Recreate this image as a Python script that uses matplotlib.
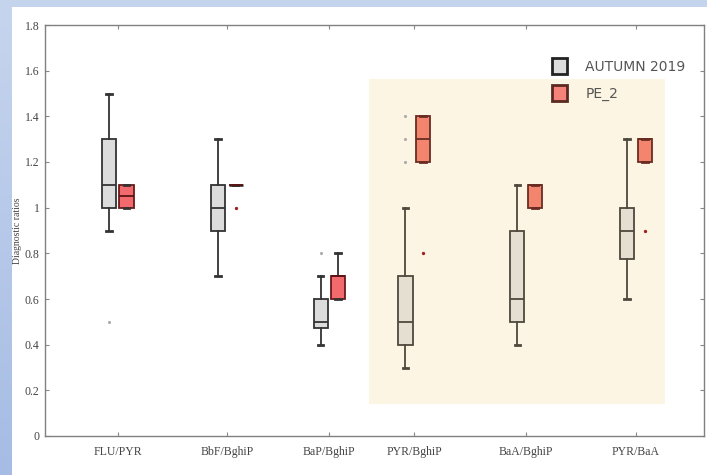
import numpy as np
import matplotlib
matplotlib.use("Agg")
import matplotlib.pyplot as plt
from matplotlib.patches import Patch, Rectangle

# ratio categories and where each group sits on the x axis
ratios = ["FLU/PYR", "BbF/BghiP", "BaP/BghiP", "PYR/BghiP", "BaA/BghiP", "PYR/BaA"]
group_pos = [0.662, 1.656, 2.589, 3.362, 4.381, 5.381]
highlighted = [False, False, False, True, True, True]

# AUTUMN 2019 box statistics
aut_whislo = [0.9, 0.7, 0.4, 0.3, 0.4, 0.6]
aut_q1 = [1.0, 0.9, 0.475, 0.4, 0.5, 0.775]
aut_med = [1.1, 1.0, 0.5, 0.5, 0.6, 0.9]
aut_q3 = [1.3, 1.1, 0.6, 0.7, 0.9, 1.0]
aut_whishi = [1.5, 1.3, 0.7, 1.0, 1.1, 1.3]
aut_fliers = [[0.5], [], [0.8], [1.2, 1.3, 1.4], [], []]

# PE_2 box statistics
pe_whislo = [1.0, 1.1, 0.6, 1.2, 1.0, 1.2]
pe_q1 = [1.0, 1.1, 0.6, 1.2, 1.0, 1.2]
pe_med = [1.05, 1.1, 0.7, 1.3, 1.1, 1.3]
pe_q3 = [1.1, 1.1, 0.7, 1.4, 1.1, 1.3]
pe_whishi = [1.1, 1.1, 0.8, 1.4, 1.1, 1.3]
pe_fliers = [[], [1.0], [], [0.8], [], [0.9]]

yticks = [0, 0.2, 0.4, 0.6, 0.8, 1.0, 1.2, 1.4, 1.6, 1.8]
ytick_labels = ["0", "0.2", "0.4", "0.6", "0.8", "1", "1.2", "1.4", "1.6", "1.8"]


def make_stats(lo, q1, med, q3, hi, fl):
    return [dict(whislo=a, q1=b, med=c, q3=d, whishi=e, fliers=f)
            for a, b, c, d, e, f in zip(lo, q1, med, q3, hi, fl)]


def restyle(parts, i, face, edge):
    parts["boxes"][i].set_facecolor(face)
    parts["boxes"][i].set_edgecolor(edge)
    parts["medians"][i].set_color(edge)
    for k in (2 * i, 2 * i + 1):
        parts["whiskers"][k].set_color(edge)
        parts["caps"][k].set_color(edge)


fig = plt.figure(figsize=(7.07, 4.75), dpi=100)
fig.patch.set_facecolor("white")

# blue frame around the slide
fig.patches.append(Rectangle((0, 1 - 7 / 475), 1, 7 / 475, transform=fig.transFigure,
                             facecolor="#c4d4ed", edgecolor="none", zorder=0))
side = fig.add_axes([0, 0, 12 / 707, 1 - 7 / 475])
grad = np.linspace(0, 1, 256).reshape(-1, 1)
side.imshow(grad, aspect="auto", cmap=matplotlib.colors.LinearSegmentedColormap.from_list(
    "side", ["#c6d5ee", "#a6bce4"]), origin="upper")
side.axis("off")

ax = fig.add_axes([45 / 707, 39 / 475, 659 / 707, 411 / 475])

# highlighted block behind the last three ratios
ax.add_patch(Rectangle((2.95, 0.14), 2.697, 1.424, facecolor="#fdf5e3",
                       edgecolor="none", zorder=0.5))

w = 0.128
off = 0.08
pos_a = [p - off for p in group_pos]
pos_p = [p + off for p in group_pos]

box_a = ax.bxp(make_stats(aut_whislo, aut_q1, aut_med, aut_q3, aut_whishi, aut_fliers),
               positions=pos_a, widths=w, patch_artist=True, manage_ticks=False,
               boxprops=dict(facecolor="#dcdcdc", edgecolor="#333333", linewidth=1.3),
               medianprops=dict(color="#333333", linewidth=1.3),
               whiskerprops=dict(color="#333333", linewidth=1.3),
               capprops=dict(color="#333333", linewidth=2.0),
               capwidths=0.05,
               flierprops=dict(marker="o", markersize=2.2, markerfacecolor="#aaaaaa",
                               markeredgecolor="none"))

box_p = ax.bxp(make_stats(pe_whislo, pe_q1, pe_med, pe_q3, pe_whishi, pe_fliers),
               positions=pos_p, widths=w, patch_artist=True, manage_ticks=False,
               boxprops=dict(facecolor="#f26a6e", edgecolor="#6a1a1a", linewidth=1.3),
               medianprops=dict(color="#5a1414", linewidth=1.3),
               whiskerprops=dict(color="#333333", linewidth=1.3),
               capprops=dict(color="#333333", linewidth=2.0),
               capwidths=0.05,
               flierprops=dict(marker="o", markersize=2.4, markerfacecolor="#a02020",
                               markeredgecolor="none"))
box_p["boxes"][1].set_edgecolor("#222222")
box_p["boxes"][1].set_linewidth(1.8)

for i, hl in enumerate(highlighted):
    if hl:
        restyle(box_a, i, "#e4dfd0", "#4f483c")
        restyle(box_p, i, "#f3846e", "#6a2c22")

ax.set_xlim(0, 6)
ax.set_ylim(0, 1.8)
ax.set_xticks(group_pos)
ax.set_xticklabels(ratios, family="Liberation Serif", fontsize=8.5, color="#444444")
ax.set_yticks(yticks)
ax.set_yticklabels(ytick_labels, family="Liberation Serif", fontsize=8.5, color="#444444")
ax.tick_params(direction="in", length=3, width=0.8, color="#888888",
               top=True, right=True, pad=4)
ax.tick_params(axis="x", pad=7)
for s in ax.spines.values():
    s.set_color("#808080")
    s.set_linewidth(1.0)
ax.set_ylabel("Diagnostic ratios", family="Liberation Serif", fontsize=7, color="#444444",
              labelpad=2)

handles = [Patch(facecolor="#dcdcdc", edgecolor="#222222", linewidth=2.0, label="AUTUMN 2019"),
           Patch(facecolor="#f4827a", edgecolor="#5a2a20", linewidth=2.0, label="PE_2")]
leg = fig.legend(handles=handles, loc="upper left", bbox_to_anchor=(552 / 707, 1 - 58 / 475),
                 frameon=False, fontsize=10, handlelength=1.1, handleheight=1.45,
                 labelspacing=0.75, handletextpad=1.3, borderpad=0, borderaxespad=0)
for t in leg.get_texts():
    t.set_color("#555555")
leg.set_zorder(6)

fig.savefig("out.png", dpi=100)
